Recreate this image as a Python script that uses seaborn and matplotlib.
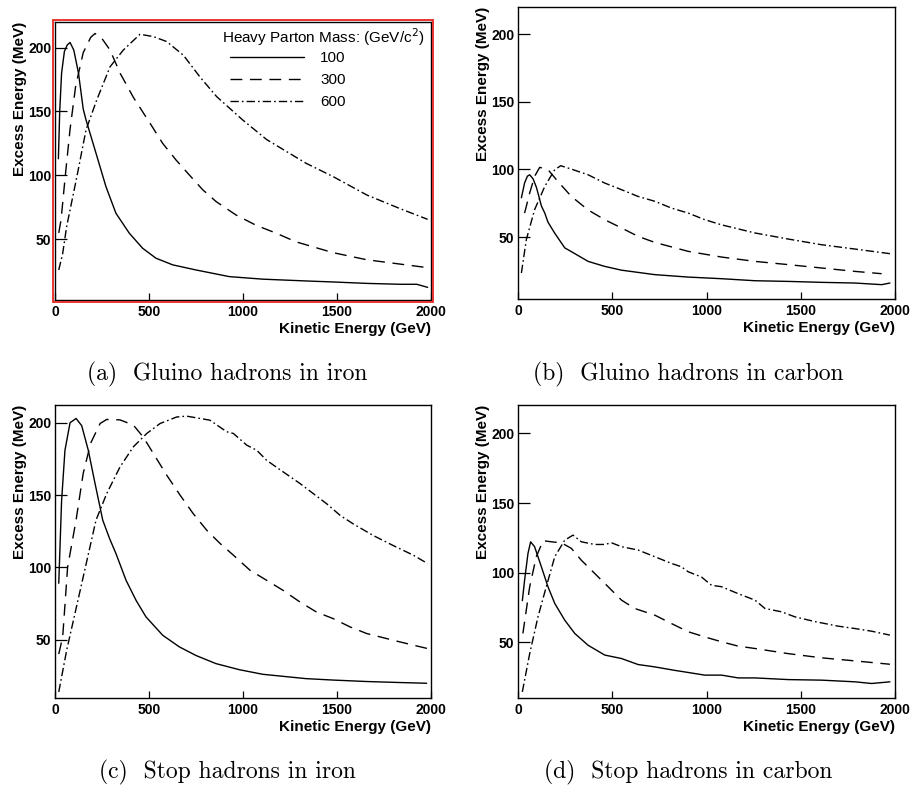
import matplotlib
matplotlib.use("Agg")
import matplotlib.pyplot as plt
from matplotlib.lines import Line2D
from matplotlib.patches import Rectangle
import pandas as pd
import seaborn as sns

# ---------------------------------------------------------------------------
# Excess energy (MeV) vs. kinetic energy (GeV), heavy parton mass 100/300/600
# ---------------------------------------------------------------------------
masses = ["100", "300", "600"]

# (a) gluino hadrons in iron
gfe_100_x = [18, 25, 35, 50, 65, 80, 100, 125, 150, 165, 218, 271, 324, 395, 466, 537, 626, 750,
             927, 1105, 1335, 1480, 1658, 1835, 1924, 1982]
gfe_100_y = [113, 150, 180, 197, 202, 204, 198, 180, 152, 143.4, 117.4, 91.2, 70.4, 54.8, 43, 35.2,
             30, 26, 20.8, 18.8, 17.4, 16.6, 15.5, 14.8, 14.8, 12.4]
gfe_300_x = [20, 32, 55, 80, 110, 150, 190, 213, 250, 293, 346, 417, 511, 573, 644, 714, 786, 857,
             963, 1069, 1176, 1282, 1480, 1658, 1835, 1982]
gfe_300_y = [55, 65, 100, 136, 170, 196, 208, 211, 207, 198, 180, 161, 139.5, 125, 112, 100.4, 88.7,
             79.5, 69, 61, 54.8, 48, 39.5, 34, 30.6, 27.8]
gfe_600_x = [20, 41, 62, 115, 165, 222, 293, 363, 452, 523, 594, 683, 771, 860, 998, 1126, 1335,
             1480, 1658, 1835, 1982]
gfe_600_y = [26, 39, 60, 98, 135.6, 159, 185, 198, 210.4, 208.6, 204.7, 194, 177, 161.6, 143.4, 128,
             109.5, 99, 84.7, 74, 65.6]

# (b) gluino hadrons in carbon
gc_100_x = [18, 35, 50, 62, 80, 97, 106, 124, 142, 159, 195, 248, 283, 372, 460, 549, 726, 903, 1080,
            1257, 1434, 1611, 1788, 1929, 1973]
gc_100_y = [79, 90, 95, 96, 93, 87, 82.5, 73, 67.7, 61, 52.8, 42, 39.2, 32, 28.3, 25.5, 22.2, 20.4,
            19.2, 17.7, 17.2, 16.5, 16, 14.8, 16]
gc_300_x = [35, 62, 88, 115, 159, 212, 283, 372, 460, 549, 637, 726, 903, 1080, 1257, 1434, 1611,
            1788, 1929]
gc_300_y = [67.7, 82.5, 94.8, 101.5, 99.8, 91, 80, 70, 62.8, 56.7, 50.5, 46, 39.4, 35.2, 32, 29.6,
            27.1, 24.6, 22.9]
gc_600_x = [18, 44, 88, 142, 195, 227, 283, 372, 460, 549, 637, 726, 814, 903, 991, 1080, 1257, 1434,
            1611, 1788, 1973]
gc_600_y = [23.4, 48, 70.2, 87.4, 99.8, 102.7, 100.2, 96, 89.9, 85, 80, 76.4, 71.4, 67.7, 62.8, 59,
            53, 48.5, 44.3, 41.1, 37.7]

# (c) stop hadrons in iron
sfe_100_x = [20, 35, 53, 80, 112, 142, 177, 213, 254, 290, 324, 378, 431, 484, 573, 661, 750, 856,
             980, 1105, 1335, 1480, 1658, 1835, 1977]
sfe_100_y = [89, 146, 181, 200, 203, 198, 181, 158, 132.6, 120, 109.6, 91, 77.2, 65.7, 53, 45, 39,
             33.4, 29.2, 26, 23, 22, 21, 20.3, 19.8]
sfe_300_x = [20, 41, 67, 112, 150, 190, 240, 275, 346, 417, 470, 523, 594, 665, 736, 807, 878, 949,
             1037, 1126, 1214, 1303, 1392, 1480, 1569, 1658, 1835, 1982]
sfe_300_y = [40, 52, 100, 132.6, 165, 186, 199.5, 202.3, 202, 198.4, 190, 178.8, 163.8, 150, 137,
             125.7, 116.5, 108.4, 98, 91, 84, 76, 69, 64.5, 58.8, 54.2, 48.4, 43.8]
sfe_600_x = [20, 62, 138, 218, 275, 346, 417, 488, 559, 647, 700, 771, 824, 913, 949, 1020, 1073,
             1126, 1214, 1303, 1374, 1445, 1516, 1587, 1693, 1800, 1906, 1982]
sfe_600_y = [13.8, 42.6, 86.4, 132.6, 151, 169.5, 183.4, 192.6, 199.5, 204, 204.6, 203, 201.8,
             193.8, 192.6, 184.5, 181, 174, 166, 158, 151, 144, 136, 130, 122, 115, 108.4, 102.6]

# (d) stop hadrons in carbon
sc_100_x = [23, 35, 53, 67, 88, 124, 159, 195, 248, 301, 372, 460, 549, 637, 726, 832, 903, 991,
            1080, 1168, 1257, 1434, 1611, 1788, 1876, 1973]
sc_100_y = [80, 94.7, 113.9, 122.2, 118.7, 104.3, 90, 78, 66, 56.5, 48, 41, 38.5, 34.2, 32.5, 30,
            28.5, 26.6, 26.6, 24.6, 24.6, 23.4, 23, 21.8, 20.6, 21.8]
sc_300_x = [26, 62, 97, 133, 177, 230, 283, 336, 407, 478, 549, 619, 726, 814, 903, 991, 1080, 1168,
            1257, 1434, 1611, 1788, 1973]
sc_300_y = [56.5, 90, 111.5, 123, 122.2, 121.5, 117.5, 109, 99.5, 90, 80.4, 74.4, 69.6, 63.6, 57.7,
            54, 50.5, 47.4, 45.7, 42, 39, 36.8, 34.4]
sc_600_x = [23, 62, 106, 150, 195, 248, 292, 336, 407, 460, 496, 549, 637, 726, 814, 867, 903, 973,
            1027, 1080, 1168, 1257, 1310, 1398, 1469, 1575, 1699, 1788, 1876, 1973]
sc_600_y = [14.6, 42, 68.4, 90, 111.5, 123.4, 127, 122.2, 120.3, 120.3, 121.5, 118.7, 116.3, 111.5,
            106.7, 104.3, 100.7, 97, 91, 90, 85, 80.4, 74.4, 72, 68.4, 65, 61.7, 60, 58.1, 55.3]

captions = ["(a)  Gluino hadrons in iron", "(b)  Gluino hadrons in carbon",
            "(c)  Stop hadrons in iron", "(d)  Stop hadrons in carbon"]
x_ticks = [0, 500, 1000, 1500, 2000]
y_ticks = [50, 100, 150, 200]
legend_title = "Heavy Parton Mass: (GeV/c$^2$)"

panels = [
    [(gfe_100_x, gfe_100_y), (gfe_300_x, gfe_300_y), (gfe_600_x, gfe_600_y)],
    [(gc_100_x, gc_100_y), (gc_300_x, gc_300_y), (gc_600_x, gc_600_y)],
    [(sfe_100_x, sfe_100_y), (sfe_300_x, sfe_300_y), (sfe_600_x, sfe_600_y)],
    [(sc_100_x, sc_100_y), (sc_300_x, sc_300_y), (sc_600_x, sc_600_y)],
]


def panel_frame(curves):
    rows = []
    for mass, (xs, ys) in zip(masses, curves):
        rows += [{"energy": x, "excess": y, "mass": mass} for x, y in zip(xs, ys)]
    return pd.DataFrame(rows)


# ---------------------------------------------------------------------------
sns.set_theme(style="ticks")
plt.rcParams["font.family"] = ["Liberation Sans", "DejaVu Sans"]
plt.rcParams.update({"axes.linewidth": 1.0, "text.color": "black", "axes.labelcolor": "black",
                     "xtick.color": "black", "ytick.color": "black", "axes.edgecolor": "black"})

dash_styles = {"100": "", "300": (8.5, 5.5), "600": (6.0, 2.2, 1.2, 2.2)}

W, H = 915, 789
fig = plt.figure(figsize=(W / 100, H / 100), dpi=100)
fig.patch.set_facecolor("white")

# axes boxes in pixels: left, top, right, bottom
boxes = [(55, 22, 431, 300), (518, 7, 895, 299), (55, 405, 431, 698), (518, 405, 895, 698)]
ylims = [(2.5, 220), (4.2, 220), (9.6, 212.3), (10.2, 220.3)]
cap_pos = [(227, 374), (688, 374), (227, 772), (688, 772)]

axes = []
for i, (l, t, r, b) in enumerate(boxes):
    ax = fig.add_axes([l / W, 1 - b / H, (r - l) / W, (b - t) / H])
    axes.append(ax)
    df = panel_frame(panels[i])
    sns.lineplot(data=df, x="energy", y="excess", style="mass", style_order=masses,
                 dashes=dash_styles, color="black", linewidth=1.0, estimator=None,
                 sort=False, legend=False, ax=ax)
    ax.set_xlim(0, 2000)
    ax.set_ylim(*ylims[i])
    ax.set_xticks(x_ticks)
    ax.set_yticks(y_ticks)
    ax.set_xticklabels([str(v) for v in x_ticks], fontsize=10, fontweight="bold")
    ax.set_yticklabels([str(v) for v in y_ticks], fontsize=10, fontweight="bold")
    ax.tick_params(axis="x", direction="in", length=4.8, width=0.9, pad=3.5, top=False)
    ax.tick_params(axis="y", direction="in", length=8.5, width=0.9, pad=2.5, right=False)
    ax.set_xlabel("Kinetic Energy (GeV)", fontsize=11, fontweight="bold", loc="right", labelpad=2)
    ax.set_ylabel("Excess Energy (MeV)", fontsize=11, fontweight="bold", loc="top", labelpad=1)
    ax.set_facecolor("white")
    for sp in ax.spines.values():
        sp.set_visible(True)
        sp.set_color("black")
        sp.set_linewidth(1.0)
    fig.text(cap_pos[i][0] / W, 1 - cap_pos[i][1] / H, captions[i], family="cmr10",
             fontsize=17, ha="center", va="center")

# selected panel outline
ax0 = axes[0]
aw, ah = boxes[0][2] - boxes[0][0], boxes[0][3] - boxes[0][1]
dx, dy = 1.6 / aw, 1.6 / ah
ax0.add_patch(Rectangle((-dx, -dy), 1 + 2 * dx, 1 + 2 * dy, transform=ax0.transAxes,
                        fill=False, edgecolor="#e8251f", linewidth=1.3, clip_on=False, zorder=5))

# legend: title line, then one row per mass
ax0.text((425 - 55) / aw, (300 - 37) / ah, legend_title, transform=ax0.transAxes,
         fontsize=11, ha="right", va="center")
handles = [Line2D([], [], color="black", linewidth=1.0, linestyle="-"),
           Line2D([], [], color="black", linewidth=1.0, dashes=dash_styles["300"]),
           Line2D([], [], color="black", linewidth=1.0, dashes=dash_styles["600"])]
ax0.legend(handles, masses, loc="upper left", bbox_to_anchor=((230 - 55) / aw, (300 - 51) / ah),
           frameon=False, fontsize=11, handlelength=4.85, handletextpad=1.05,
           labelspacing=0.52, borderpad=0.0, borderaxespad=0.0)

fig.savefig("out.png", dpi=100, facecolor="white")
